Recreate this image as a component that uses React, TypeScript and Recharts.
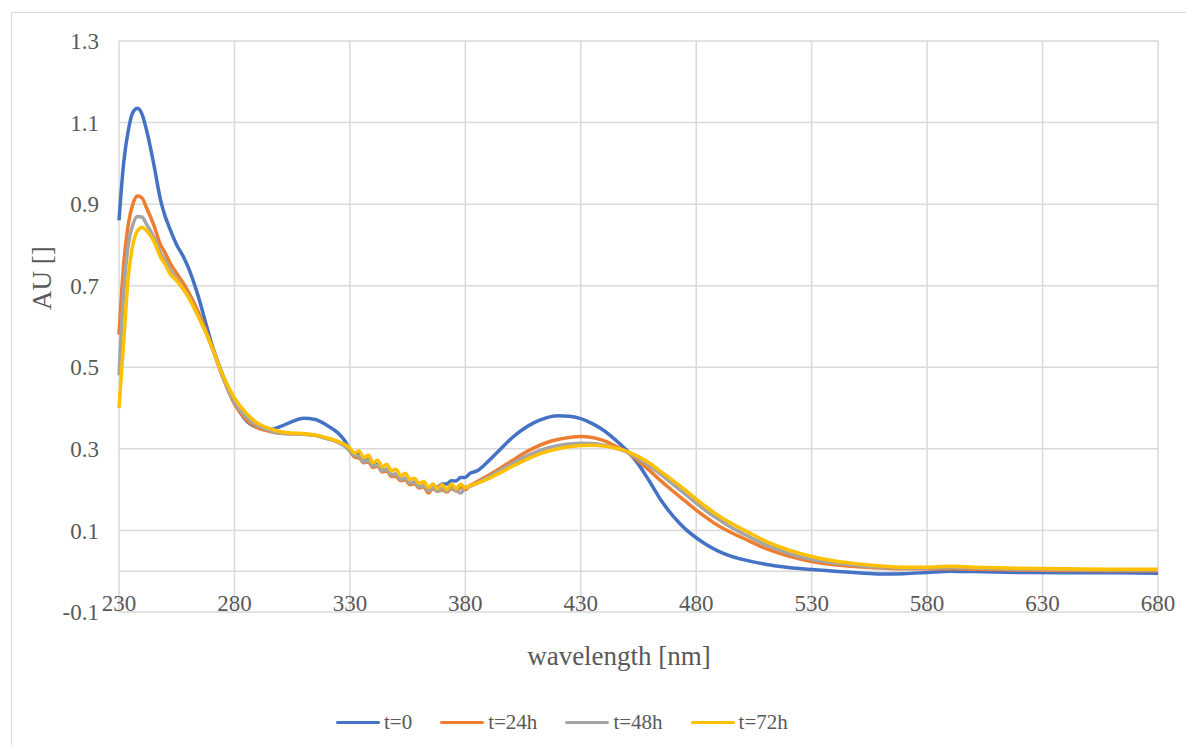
import React from 'react'
import {
    CartesianGrid,
    Label,
    Line,
    LineChart,
    ReferenceLine,
    XAxis,
    YAxis,
} from 'recharts'

// wavelength grid (nm), shared by all four spectra
const wavelengths = [
    230, 232, 234, 236, 238, 240, 242, 245, 248, 250,
    252, 255, 258, 260, 264, 268, 270, 275, 280, 285,
    290, 295, 300, 305, 310, 315, 320, 325, 328, 330,
    332, 334, 336, 338, 340, 342, 344, 346, 348, 350,
    352, 354, 356, 358, 360, 362, 364, 366, 368, 370,
    372, 374, 376, 378, 380, 382, 385, 390, 395, 400,
    405, 410, 415, 420, 425, 430, 435, 440, 445, 450,
    455, 460, 465, 470, 475, 480, 485, 490, 495, 500,
    510, 520, 530, 540, 550, 560, 570, 580, 590, 600,
    620, 640, 660, 680,
]

const absT0 = [
    0.86, 1.0, 1.08, 1.125, 1.135, 1.12, 1.08, 1.0, 0.91, 0.87,
    0.84, 0.8, 0.77, 0.745, 0.68, 0.6, 0.56, 0.48, 0.415, 0.37,
    0.352, 0.347, 0.355, 0.367, 0.375, 0.372, 0.358, 0.338, 0.318, 0.298,
    0.286, 0.287, 0.27, 0.274, 0.258, 0.262, 0.247, 0.25, 0.236, 0.238,
    0.224, 0.228, 0.214, 0.218, 0.206, 0.208, 0.2, 0.208, 0.206, 0.214,
    0.214, 0.222, 0.221, 0.23, 0.23, 0.24, 0.246, 0.27, 0.298, 0.326,
    0.348, 0.365, 0.376, 0.381, 0.38, 0.374, 0.362, 0.345, 0.322, 0.296,
    0.262, 0.218, 0.172, 0.135, 0.105, 0.082, 0.063, 0.048, 0.037, 0.029,
    0.017, 0.009, 0.004, 0.0, -0.004, -0.007, -0.006, -0.003, 0.0, -0.001,
    -0.003, -0.004, -0.004, -0.005,
]

const absT24 = [
    0.58, 0.75, 0.85, 0.9, 0.92, 0.915, 0.89, 0.85, 0.8, 0.78,
    0.757, 0.73, 0.705, 0.685, 0.64, 0.585, 0.555, 0.475, 0.41, 0.372,
    0.352, 0.343, 0.338, 0.337, 0.336, 0.333, 0.326, 0.316, 0.306, 0.295,
    0.28, 0.278, 0.266, 0.268, 0.254, 0.258, 0.243, 0.246, 0.232, 0.232,
    0.222, 0.224, 0.212, 0.215, 0.204, 0.207, 0.192, 0.203, 0.196, 0.2,
    0.194, 0.203, 0.197, 0.206, 0.2, 0.21, 0.219, 0.235, 0.252, 0.27,
    0.288, 0.303, 0.315, 0.323, 0.328, 0.33, 0.328, 0.32, 0.307, 0.292,
    0.27, 0.246, 0.22, 0.196, 0.173, 0.15, 0.129, 0.11, 0.095, 0.082,
    0.056, 0.037, 0.024, 0.016, 0.011, 0.008, 0.006, 0.006, 0.006, 0.005,
    0.003, 0.002, 0.001, 0.001,
]

const absT48 = [
    0.48, 0.68, 0.8, 0.85, 0.87, 0.868, 0.85, 0.82, 0.78, 0.762,
    0.74, 0.715, 0.69, 0.675, 0.63, 0.58, 0.552, 0.476, 0.415, 0.378,
    0.357, 0.345, 0.339, 0.337, 0.336, 0.333, 0.325, 0.316, 0.306, 0.296,
    0.284, 0.282, 0.268, 0.272, 0.258, 0.26, 0.246, 0.25, 0.236, 0.238,
    0.225, 0.228, 0.216, 0.219, 0.207, 0.21, 0.197, 0.206, 0.196, 0.204,
    0.196, 0.206, 0.198, 0.192, 0.206, 0.208, 0.216, 0.231, 0.247, 0.263,
    0.278, 0.291, 0.301, 0.308, 0.312, 0.314, 0.313, 0.309, 0.302, 0.292,
    0.276, 0.257, 0.236, 0.213, 0.19, 0.167, 0.145, 0.126, 0.108, 0.093,
    0.065, 0.044, 0.029, 0.02, 0.014, 0.01, 0.008, 0.008, 0.009, 0.008,
    0.005, 0.004, 0.003, 0.003,
]

const absT72 = [
    0.4, 0.56, 0.72, 0.8, 0.835, 0.843, 0.835, 0.81, 0.77, 0.752,
    0.73, 0.712, 0.69, 0.672, 0.628, 0.58, 0.553, 0.48, 0.425, 0.388,
    0.363, 0.35, 0.342, 0.339, 0.337, 0.334, 0.327, 0.318, 0.31, 0.302,
    0.29, 0.295, 0.278, 0.285, 0.266, 0.272, 0.256, 0.262, 0.246, 0.25,
    0.234, 0.24, 0.225, 0.228, 0.215, 0.22, 0.205, 0.214, 0.203, 0.212,
    0.2, 0.214, 0.203, 0.213, 0.205, 0.21, 0.215, 0.227, 0.241, 0.256,
    0.27, 0.283, 0.293, 0.3, 0.305, 0.308, 0.309, 0.307, 0.302, 0.294,
    0.281, 0.264, 0.243, 0.222, 0.2, 0.177, 0.155, 0.135, 0.118, 0.103,
    0.074, 0.052, 0.036, 0.025, 0.018, 0.013, 0.01, 0.01, 0.012, 0.01,
    0.007, 0.006, 0.005, 0.005,
]

const xTicks = [230, 280, 330, 380, 430, 480, 530, 580, 630, 680]
const yTicks = [-0.1, 0.1, 0.3, 0.5, 0.7, 0.9, 1.1, 1.3]

const SERIES = [
    { key: 't0', name: 't=0', color: '#4472C4', values: absT0 },
    { key: 't24', name: 't=24h', color: '#ED7D31', values: absT24 },
    { key: 't48', name: 't=48h', color: '#A5A5A5', values: absT48 },
    { key: 't72', name: 't=72h', color: '#FFC000', values: absT72 },
]

const rows = wavelengths.map((wl, i) => {
    const row: Record<string, number> = { wl }
    SERIES.forEach(s => { row[s.key] = s.values[i] })
    return row
})

const FONT = '"Liberation Serif", "Times New Roman", serif'
const TEXT = '#595959'
const GRID = '#d9d9d9'

// Excel puts the category labels just under the zero line, not under the plot
const XTick = ({ x, y, payload }: any) => (
    <text x={x} y={y - 9} textAnchor="middle" dominantBaseline="central" fill={TEXT} fontSize={23} fontFamily={FONT}>
        {payload.value}
    </text>
)

const App: React.FC = () => (
    <div style={{ position: 'fixed', left: 0, top: 0, width: 1186, height: 745, overflow: 'hidden', background: '#fff' }}>
        <div style={{ position: 'absolute', left: 11, top: 12, width: 1300, height: 900, border: `1.5px solid ${GRID}` }} />
        <div style={{ position: 'absolute', left: 0, top: 0 }}>
            <LineChart width={1186} height={745} data={rows} margin={{ top: 41, right: 28, bottom: 103, left: 0 }}>
                <CartesianGrid stroke={GRID} strokeWidth={1.5} />
                <XAxis
                    dataKey="wl"
                    type="number"
                    domain={[230, 680]}
                    ticks={xTicks}
                    axisLine={false}
                    tickLine={false}
                    tickSize={0}
                    tickMargin={0}
                    height={30}
                    tick={<XTick />}
                    interval={0}
                >
                    <Label
                        content={({ viewBox }: any) => (
                            <text x={viewBox.x + 500} y={viewBox.y + 44} textAnchor="middle" dominantBaseline="central" fill={TEXT} fontSize={27} fontFamily={FONT}>
                                wavelength [nm]
                            </text>
                        )}
                    />
                </XAxis>
                <YAxis
                    type="number"
                    domain={[-0.1, 1.3]}
                    ticks={yTicks}
                    axisLine={false}
                    tickLine={false}
                    tickSize={0}
                    tickMargin={20}
                    width={119}
                    interval={0}
                    tickFormatter={(v: number) => v.toFixed(1)}
                    tick={{ fill: TEXT, fontSize: 23, fontFamily: FONT }}
                >
                    <Label
                        content={({ viewBox }: any) => {
                            const cx = viewBox.x + 42
                            const cy = viewBox.y + 237
                            return (
                                <text x={cx} y={cy} transform={`rotate(-90 ${cx} ${cy})`} textAnchor="middle" dominantBaseline="central" fill={TEXT} fontSize={27} fontFamily={FONT}>
                                    AU []
                                </text>
                            )
                        }}
                    />
                </YAxis>
                <ReferenceLine y={0} stroke={GRID} strokeWidth={1.5} />
                {SERIES.map(s => (
                    <Line
                        key={s.key}
                        dataKey={s.key}
                        name={s.name}
                        type="monotone"
                        stroke={s.color}
                        strokeWidth={3.5}
                        dot={false}
                        activeDot={false}
                        isAnimationActive={false}
                    />
                ))}
            </LineChart>
        </div>
        {/* legend row under the plot */}
        <div style={{ position: 'absolute', left: 336, top: 710, display: 'flex', alignItems: 'center', fontFamily: FONT, fontSize: 21, color: TEXT }}>
            {SERIES.map((s, i) => (
                <div key={s.key} style={{ display: 'flex', alignItems: 'center', marginLeft: i === 0 ? 0 : 28 }}>
                    <span style={{ display: 'inline-block', width: 44, height: 3.5, borderRadius: 2, background: s.color, marginRight: 4 }} />
                    <span>{s.name}</span>
                </div>
            ))}
        </div>
    </div>
)

export default App
